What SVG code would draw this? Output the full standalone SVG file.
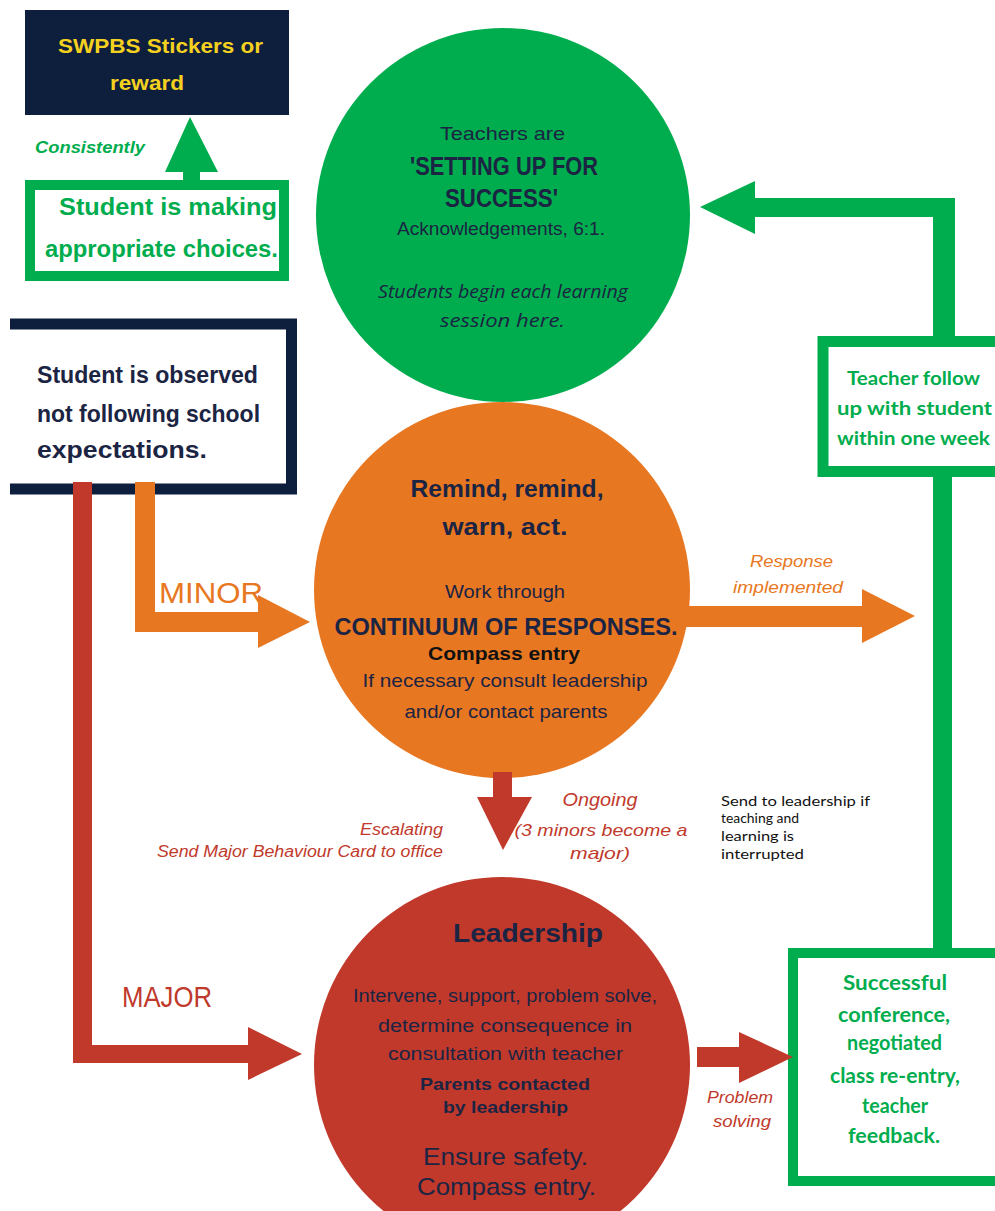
<svg xmlns="http://www.w3.org/2000/svg" width="995" height="1211" viewBox="0 0 995 1211">
<style>
text{font-family:"Liberation Sans",Arial,sans-serif;}
.navy{fill:#1b2443;}
.b{font-weight:bold;}
.i{font-style:italic;}
.c{text-anchor:middle;}
.gt{fill:#00ad4e;font-weight:bold;}
.gtc{fill:#00ad4e;font-weight:bold;font-family:Lato,"Liberation Sans",sans-serif;text-anchor:middle;}
.rl{fill:#c0392b;font-style:italic;}
.ol{fill:#e87722;font-style:italic;}
</style>
<rect width="995" height="1211" fill="#ffffff"/>

<g id="reward">
<rect x="25" y="10" width="264" height="105" fill="#0e1f3d"/>
<text x="160.5" y="53" class="c b" font-size="21" fill="#f5d11f" textLength="205" lengthAdjust="spacingAndGlyphs">SWPBS Stickers or</text>
<text x="147" y="90" class="c b" font-size="21" fill="#f5d11f" textLength="74" lengthAdjust="spacingAndGlyphs">reward</text>
</g>

<g id="appropriate">
<rect x="30" y="185" width="254" height="91" fill="#ffffff" stroke="#00ad4e" stroke-width="10"/>
<text x="168" y="215" class="c gt" font-size="23" textLength="218" lengthAdjust="spacingAndGlyphs">Student is making</text>
<text x="161.5" y="257" class="c gt" font-size="23" textLength="233" lengthAdjust="spacingAndGlyphs">appropriate choices.</text>
</g>

<g id="setting-up">
<circle cx="503" cy="215" r="187" fill="#00ad4e"/>
<text x="502.5" y="140" class="c navy" font-size="19" textLength="125" lengthAdjust="spacingAndGlyphs">Teachers are</text>
<text x="504" y="175" class="c navy b" font-size="25" textLength="188" lengthAdjust="spacingAndGlyphs">'SETTING UP FOR</text>
<text x="501.5" y="207" class="c navy b" font-size="25" textLength="113" lengthAdjust="spacingAndGlyphs">SUCCESS'</text>
<text x="501" y="235" class="c navy" font-size="18" textLength="208" lengthAdjust="spacingAndGlyphs">Acknowledgements, 6:1.</text>
<text x="503" y="298" class="c navy i" font-size="18" font-family="'Open Sans',sans-serif" style="font-family:'Open Sans',sans-serif" textLength="250" lengthAdjust="spacingAndGlyphs">Students begin each learning</text>
<text x="502.5" y="327" class="c navy i" font-size="18" style="font-family:'Open Sans',sans-serif" textLength="125" lengthAdjust="spacingAndGlyphs">session here.</text>
</g>

<g id="observed">
<path d="M10,324 H291.5 V489 H10" fill="#ffffff" stroke="#0e1f3d" stroke-width="11"/>
<text x="37" y="383" class="navy b" font-size="24" textLength="221" lengthAdjust="spacingAndGlyphs">Student is observed</text>
<text x="37" y="422" class="navy b" font-size="24" textLength="223" lengthAdjust="spacingAndGlyphs">not following school</text>
<text x="37" y="458" class="navy b" font-size="24" textLength="170" lengthAdjust="spacingAndGlyphs">expectations.</text>
</g>

<g id="continuum">
<circle cx="502" cy="590" r="188" fill="#e87722"/>
<text x="507" y="497" class="c navy b" font-size="24" textLength="193" lengthAdjust="spacingAndGlyphs">Remind, remind,</text>
<text x="505" y="535" class="c navy b" font-size="24" textLength="125" lengthAdjust="spacingAndGlyphs">warn, act.</text>
<text x="505" y="598" class="c navy" font-size="18" textLength="120" lengthAdjust="spacingAndGlyphs">Work through</text>
<text x="506" y="635" class="c navy b" font-size="24" textLength="343" lengthAdjust="spacingAndGlyphs">CONTINUUM OF RESPONSES.</text>
<text x="504" y="660" class="c b" font-size="19" fill="#111111" textLength="152" lengthAdjust="spacingAndGlyphs">Compass entry</text>
<text x="505" y="687" class="c navy" font-size="19" textLength="285" lengthAdjust="spacingAndGlyphs">If necessary consult leadership</text>
<text x="506" y="718" class="c navy" font-size="19" textLength="203" lengthAdjust="spacingAndGlyphs">and/or contact parents</text>
</g>

<g id="leadership">
<circle cx="502" cy="1065" r="188" fill="#c0392b"/>
<text x="528" y="942" class="c navy b" font-size="25" textLength="150" lengthAdjust="spacingAndGlyphs">Leadership</text>
<text x="505" y="1002" class="c navy" font-size="18" textLength="304" lengthAdjust="spacingAndGlyphs">Intervene, support, problem solve,</text>
<text x="505" y="1032" class="c navy" font-size="18" textLength="254" lengthAdjust="spacingAndGlyphs">determine consequence in</text>
<text x="505.5" y="1060" class="c navy" font-size="18" textLength="235" lengthAdjust="spacingAndGlyphs">consultation with teacher</text>
<text x="505" y="1090" class="c navy b" font-size="17" textLength="170" lengthAdjust="spacingAndGlyphs">Parents contacted</text>
<text x="505.5" y="1113" class="c navy b" font-size="17" textLength="125" lengthAdjust="spacingAndGlyphs">by leadership</text>
<text x="505.5" y="1165" class="c navy" font-size="24" textLength="165" lengthAdjust="spacingAndGlyphs">Ensure safety.</text>
<text x="506.5" y="1195" class="c navy" font-size="24" textLength="179" lengthAdjust="spacingAndGlyphs">Compass entry.</text>
</g>

<g id="follow-up">
<rect x="823" y="341.5" width="200" height="130" fill="#ffffff" stroke="#00ad4e" stroke-width="11"/>
<text x="913.5" y="385" class="gtc" font-size="19" textLength="133" lengthAdjust="spacingAndGlyphs">Teacher follow</text>
<text x="914.5" y="415" class="gtc" font-size="19" textLength="155" lengthAdjust="spacingAndGlyphs">up with student</text>
<text x="913.5" y="445" class="gtc" font-size="19" textLength="153" lengthAdjust="spacingAndGlyphs">within one week</text>
</g>

<g id="conference">
<rect x="793" y="953" width="250" height="228" fill="#ffffff" stroke="#00ad4e" stroke-width="10"/>
<text x="895" y="990" class="gtc" font-size="20" textLength="104" lengthAdjust="spacingAndGlyphs">Successful</text>
<text x="894" y="1022" class="gtc" font-size="20" textLength="112" lengthAdjust="spacingAndGlyphs">conference,</text>
<text x="894.5" y="1050" class="gtc" font-size="20" textLength="95" lengthAdjust="spacingAndGlyphs">negotiated</text>
<text x="895" y="1083" class="gtc" font-size="20" textLength="130" lengthAdjust="spacingAndGlyphs">class re-entry,</text>
<text x="895" y="1113" class="gtc" font-size="20" textLength="66" lengthAdjust="spacingAndGlyphs">teacher</text>
<text x="894" y="1143" class="gtc" font-size="20" textLength="92" lengthAdjust="spacingAndGlyphs">feedback.</text>
</g>

<g id="connectors">
<polygon fill="#00ad4e" points="183,180 183,172 165,172 190,117 218,172 200,172 200,180"/>
<polygon fill="#c0392b" points="73,482 73,1063 248,1063 248,1080 302,1054 248,1027 248,1045 92,1045 92,482"/>
<polygon fill="#e87722" points="135,482 135,632 258,632 258,648 310,622 258,595 258,612 155,612 155,482"/>
<polygon fill="#e87722" points="686,606 862,606 862,589 915,616 862,643 862,627 686,627"/>
<polygon fill="#c0392b" points="493,772 512,772 512,797 532,797 503,850 477,797 493,797"/>
<polygon fill="#c0392b" points="697,1047 739,1047 739,1032 793,1057 739,1083 739,1067 697,1067"/>
<polygon fill="#00ad4e" points="700,207 755,181 755,198 955,198 955,337 933,337 933,217 755,217 755,234"/>
<rect x="933" y="476" width="19" height="473" fill="#00ad4e"/>
</g>

<g id="labels">
<text x="35" y="153" class="gt i" font-size="16" textLength="110" lengthAdjust="spacingAndGlyphs">Consistently</text>
<text x="159" y="603" font-size="30" fill="#e87722" textLength="104" lengthAdjust="spacingAndGlyphs">MINOR</text>
<text x="122" y="1007" font-size="30" fill="#c0392b" textLength="90" lengthAdjust="spacingAndGlyphs">MAJOR</text>
<text x="791.5" y="567" class="ol c" font-size="17" textLength="83" lengthAdjust="spacingAndGlyphs">Response</text>
<text x="788" y="593" class="ol c" font-size="17" textLength="110" lengthAdjust="spacingAndGlyphs">implemented</text>
<text x="600" y="806" class="rl c" font-size="18" textLength="75" lengthAdjust="spacingAndGlyphs">Ongoing</text>
<text x="601" y="836" class="rl c" font-size="17" textLength="173" lengthAdjust="spacingAndGlyphs">(3 minors become a</text>
<text x="600" y="859" class="rl c" font-size="17" textLength="60" lengthAdjust="spacingAndGlyphs">major)</text>
<text x="443" y="835" class="rl" text-anchor="end" font-size="16" textLength="83" lengthAdjust="spacingAndGlyphs">Escalating</text>
<text x="443" y="857" class="rl" text-anchor="end" font-size="16" textLength="286" lengthAdjust="spacingAndGlyphs">Send Major Behaviour Card to office</text>
<text x="721" y="806" font-size="14" fill="#111111" style="font-family:Lato,sans-serif" textLength="149" lengthAdjust="spacingAndGlyphs">Send to leadership if</text>
<text x="721" y="823" font-size="14" fill="#111111" style="font-family:Lato,sans-serif" textLength="78" lengthAdjust="spacingAndGlyphs">teaching and</text>
<text x="721" y="841" font-size="14" fill="#111111" style="font-family:Lato,sans-serif" textLength="73" lengthAdjust="spacingAndGlyphs">learning is</text>
<text x="721" y="859" font-size="14" fill="#111111" style="font-family:Lato,sans-serif" textLength="83" lengthAdjust="spacingAndGlyphs">interrupted</text>
<text x="740" y="1103" class="rl c" font-size="16" textLength="66" lengthAdjust="spacingAndGlyphs">Problem</text>
<text x="742" y="1127" class="rl c" font-size="16" textLength="58" lengthAdjust="spacingAndGlyphs">solving</text>
</g>
</svg>
